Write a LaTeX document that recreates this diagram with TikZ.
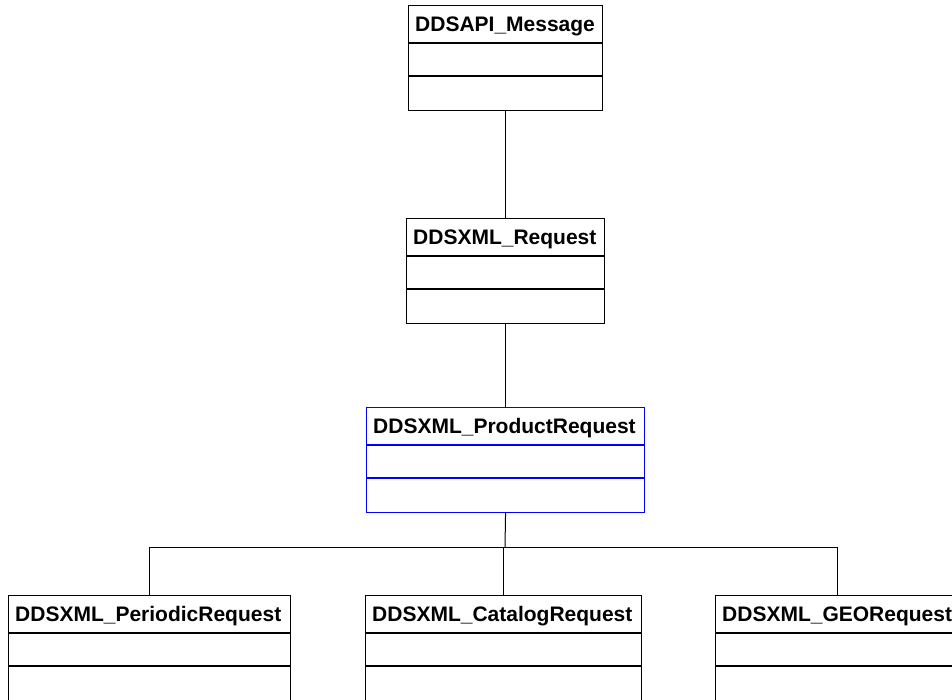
\documentclass[tikz,border=0pt]{standalone}
\usepackage{fontspec}
\setmainfont{Liberation Sans}

\tikzset{
  classbox/.style={draw, rectangle, line width=1.1pt, inner sep=0pt,
    minimum height=105pt, anchor=north west},
  classname/.style={anchor=base west, inner sep=0pt,
    font=\bfseries\fontsize{21}{25}\selectfont},
  link/.style={line width=1pt},
}

% \umlclass{id}{x}{y}{width}{colour}{name}: class box with two empty compartments
\newcommand\umlclass[6]{%
  \node[classbox, draw=#5, minimum width=#4pt] (#1) at (#2,#3) {};
  \draw[#5, line width=1.1pt] ([yshift=-38pt]#1.north west) -- ([yshift=-38pt]#1.north east);
  \draw[#5, line width=1.1pt] ([yshift=-71pt]#1.north west) -- ([yshift=-71pt]#1.north east);
  \node[classname] (#1-name) at ([xshift=7pt,yshift=-26.5pt]#1.north west) {#6};
}

\begin{document}
\begin{tikzpicture}[x=1pt, y=-1pt]
  \useasboundingbox (0,0) rectangle (952,700);

  \umlclass{msg}{408}{5}{194}{black}{DDSAPI\_Message}
  \umlclass{req}{406}{218}{198}{black}{DDSXML\_Request}
  \umlclass{prod}{366}{407}{278}{blue}{DDSXML\_ProductRequest}
  \umlclass{per}{8}{595}{282}{black}{DDSXML\_PeriodicRequest}
  \umlclass{cat}{365}{595}{276}{black}{DDSXML\_CatalogRequest}
  \umlclass{geo}{715}{595}{244}{black}{DDSXML\_GEORequest}

  \coordinate (bus) at (505,547);

  \draw[link] (msg.south) -- (req.north);
  \draw[link] (req.south) -- (prod.north);
  \draw[link] (prod.south) -- (bus);
  \draw[link] (bus) -| (per.north);
  \draw[link] (bus) -| (cat.north);
  \draw[link] (bus) -| (geo.north);
\end{tikzpicture}
\end{document}
